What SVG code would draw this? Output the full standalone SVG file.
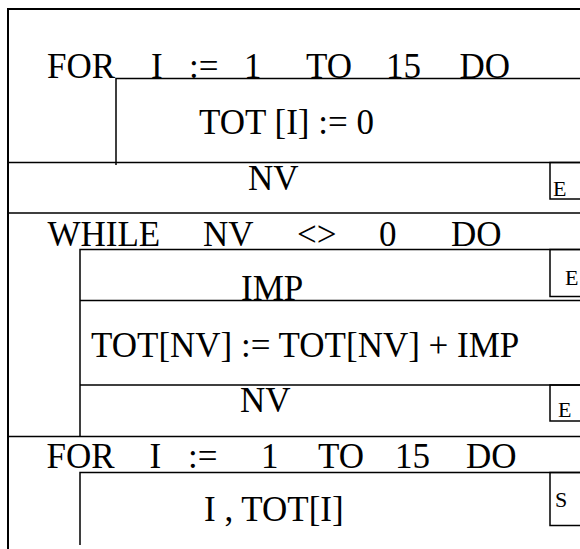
<svg xmlns="http://www.w3.org/2000/svg" width="580" height="549" viewBox="0 0 580 549">
<style>
.ln{fill:none;stroke:#000;stroke-width:1.5}
.bd{fill:none;stroke:#000;stroke-width:2}
.t{font-family:"Liberation Serif","Times New Roman",serif;font-size:35px;fill:#000}
.s{font-family:"Liberation Serif","Times New Roman",serif;font-size:22px;fill:#000}
</style>
<rect width="580" height="549" fill="#fff"/>
<g id="frame">
<path class="bd" d="M8 549V9H580"/>
</g>
<g id="connectors">
<path class="ln" d="M8 162.5H580M8 213H580M80 300.5H580M80 385H580M8 436.5H580"/>
</g>
<g id="for1">
<path class="ln" d="M116 165V78.5H580"/>
<text class="t" y="78"><tspan x="47">FOR</tspan><tspan x="151">I</tspan><tspan x="189">:=</tspan><tspan x="244">1</tspan><tspan x="306">TO</tspan><tspan x="386">15</tspan><tspan x="459.5">DO</tspan></text>
</g>
<g id="init">
<text class="t" x="199" y="134">TOT [I] := 0</text>
</g>
<g id="read-nv1">
<text class="t" x="248" y="190">NV</text>
<rect class="ln" x="550" y="162.5" width="40" height="36.5"/>
<text class="s" x="553" y="196">E</text>
</g>
<g id="while">
<path class="ln" d="M80 436.5V249.5H580"/>
<text class="t" y="245.5"><tspan x="47.5">WHILE</tspan><tspan x="203">NV</tspan><tspan x="297">&lt;&gt;</tspan><tspan x="379">0</tspan><tspan x="451">DO</tspan></text>
</g>
<g id="read-imp">
<text class="t" x="241" y="300">IMP</text>
<rect class="ln" x="550" y="249.5" width="40" height="47"/>
<text class="s" x="565" y="285">E</text>
</g>
<g id="accumulate">
<text class="t" x="91" y="356.5">TOT[NV] := TOT[NV] + IMP</text>
</g>
<g id="read-nv2">
<text class="t" x="240" y="411.5">NV</text>
<rect class="ln" x="550" y="385" width="40" height="36"/>
<text class="s" x="558" y="416.7">E</text>
</g>
<g id="for2">
<path class="ln" d="M80 545V472.5H580"/>
<text class="t" y="467.5"><tspan x="46.5">FOR</tspan><tspan x="149.5">I</tspan><tspan x="188">:=</tspan><tspan x="261">1</tspan><tspan x="318">TO</tspan><tspan x="395">15</tspan><tspan x="466">DO</tspan></text>
</g>
<g id="output">
<text class="t" x="204" y="520.5">I , TOT[I]</text>
<rect class="ln" x="550" y="472.5" width="40" height="53"/>
<text class="s" x="555" y="506.7">S</text>
</g>
</svg>
